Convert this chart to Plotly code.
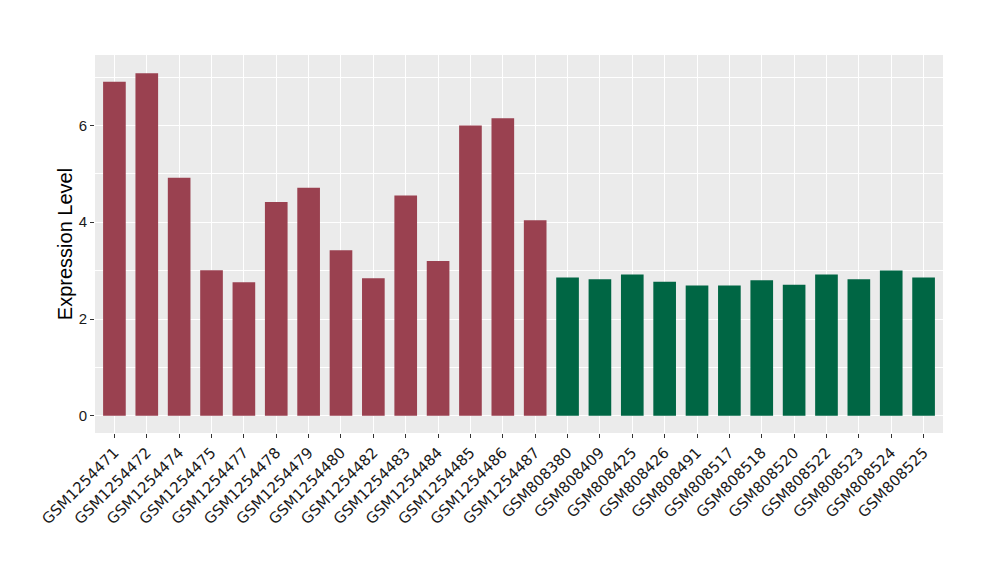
import plotly.graph_objects as go

samples_a = ["GSM1254471", "GSM1254472", "GSM1254474", "GSM1254475", "GSM1254477",
             "GSM1254478", "GSM1254479", "GSM1254480", "GSM1254482", "GSM1254483",
             "GSM1254484", "GSM1254485", "GSM1254486", "GSM1254487"]
values_a = [6.90, 7.08, 4.92, 3.01, 2.76, 4.42, 4.71, 3.42, 2.84, 4.55, 3.20, 6.00, 6.15, 4.04]

samples_b = ["GSM808380", "GSM808409", "GSM808425", "GSM808426", "GSM808491", "GSM808517",
             "GSM808518", "GSM808520", "GSM808522", "GSM808523", "GSM808524", "GSM808525"]
values_b = [2.86, 2.82, 2.92, 2.77, 2.69, 2.69, 2.80, 2.71, 2.92, 2.82, 3.00, 2.86]

y_ticks = [0, 2, 4, 6]

all_samples = samples_a + samples_b

fig = go.Figure()
fig.add_trace(go.Bar(x=samples_a, y=values_a, marker=dict(color="#9A4150", line=dict(width=0)),
                     width=0.7, showlegend=False))
fig.add_trace(go.Bar(x=samples_b, y=values_b, marker=dict(color="#006644", line=dict(width=0)),
                     width=0.7, showlegend=False))

fig.update_layout(
    width=1000, height=580,
    margin=dict(l=87, r=65, t=47, b=155),
    paper_bgcolor="white",
    plot_bgcolor="#EBEBEB",
    font=dict(family="Liberation Sans, Arial, sans-serif", color="#1a1a1a"),
    bargap=0.3,
)
fig.update_xaxes(
    type="category", categoryorder="array", categoryarray=all_samples,
    range=[-0.6, len(all_samples) - 0.4],
    tickangle=-45, tickfont=dict(family="DejaVu Sans, sans-serif", size=15, color="#1a1a1a"),
    showgrid=True, gridcolor="white", gridwidth=1.2,
    ticks="outside", ticklen=4, tickcolor="#333333", tickwidth=1,
    zeroline=False, showline=False, automargin=False,
)
fig.update_yaxes(
    range=[-0.355, 7.455],
    tickvals=y_ticks, ticktext=[str(v) for v in y_ticks],
    tickfont=dict(size=15, color="#1a1a1a"),
    title=dict(text="Expression Level", font=dict(size=20, color="#000000"), standoff=0),
    showgrid=True, gridcolor="white", gridwidth=1.2,
    minor=dict(tickvals=[1, 3, 5, 7], showgrid=True, gridcolor="white", gridwidth=0.6, ticks=""),
    ticks="outside", ticklen=4, tickcolor="#333333", tickwidth=1,
    zeroline=False, showline=False, automargin=False,
)

fig.write_html("out.html")
